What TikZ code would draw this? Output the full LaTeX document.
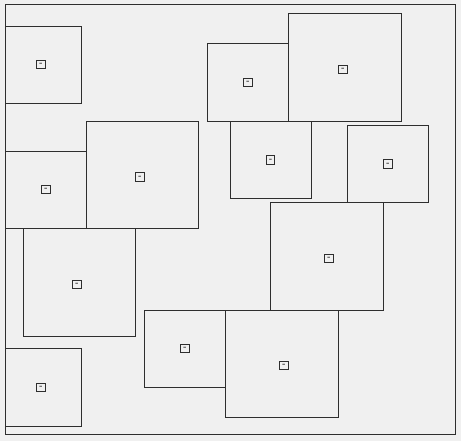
\documentclass[tikz,border=0pt]{standalone}
\usepackage{tikz}
\usepackage{xcolor}
\usetikzlibrary{shapes,arrows}
\definecolor{paper}{HTML}{F0F0F0}
\definecolor{ink}{HTML}{2E2E2E}

\begin{document}
\begin{tikzpicture}[x=1pt,y=-1pt,
    cell/.style ={rectangle, draw=ink, line width=0.9pt, anchor=north west,
      inner sep=0pt, outer sep=0pt},
    tag/.style ={rectangle, draw=ink, line width=1pt, inner sep=0pt,
      minimum size=8.5pt, font=\fontsize{8}{8}\bfseries\selectfont, text=ink},
      frame/.style ={draw=ink, line width=0.9pt}]
    % background and outer frame
    \fill [paper] (0,0) rectangle (461,441);
    \useasboundingbox (0,0) rectangle (461,441);
    \node [cell, minimum width=450.5pt, minimum height=430pt] (board) at (5,4.3) {};
    % left column
    \node [cell, minimum width=76.7pt, minimum height=77pt] (cellA) at (5,26.3) {};
    \node [cell, minimum width=81.3pt, minimum height=77pt] (cellB) at (5,151.3) {};
    \node [cell, minimum width=112.4pt, minimum height=107pt] (cellC) at (86.3,121.3) {};
    \node [cell, minimum width=112pt, minimum height=108pt] (cellD) at (23.3,228.3) {};
    \node [cell, minimum width=76.7pt, minimum height=78pt] (cellE) at (5,348.3) {};
    % bottom middle
    \node [cell, minimum width=81.4pt, minimum height=77pt] (cellF) at (144.3,310.3) {};
    \node [cell, minimum width=113.4pt, minimum height=107pt] (cellG) at (225.3,310.3) {};
    \node [cell, minimum width=113pt, minimum height=108pt] (cellH) at (270.3,202.3) {};
    % top right
    \node [cell, minimum width=81pt, minimum height=78pt] (cellI) at (207.3,43.3) {};
    \node [cell, minimum width=113pt, minimum height=108pt] (cellJ) at (288.3,13.3) {};
    \node [cell, minimum width=81pt, minimum height=77pt] (cellK) at (230.3,121.3) {};
    \node [cell, minimum width=81pt, minimum height=77pt] (cellL) at (347.3,125.3) {};
    % small tags
    \node [tag] (tagA) at (41,64.7) {\raisebox{-2.2pt}{-}};
    \node [tag] (tagB) at (46,189.7) {\raisebox{-2.2pt}{-}};
    \node [tag] (tagC) at (140,177) {\raisebox{-2.2pt}{-}};
    \node [tag] (tagD) at (77,284.3) {\raisebox{-2.2pt}{-}};
    \node [tag] (tagE) at (41,387.3) {\raisebox{-2.2pt}{-}};
    \node [tag] (tagF) at (185,348.7) {\raisebox{-2.2pt}{-}};
    \node [tag] (tagG) at (284,365.7) {\raisebox{-2.2pt}{-}};
    \node [tag] (tagH) at (329,258.3) {\raisebox{-2.2pt}{-}};
    \node [tag] (tagI) at (248,82.3) {\raisebox{-2.2pt}{-}};
    \node [tag] (tagJ) at (343,69.3) {\raisebox{-2.2pt}{-}};
    \node [tag] (tagK) at (270.7,160) {\raisebox{-2.2pt}{-}};
    \node [tag] (tagL) at (388,164) {\raisebox{-2.2pt}{-}};
  \end{tikzpicture}
\end{document}
